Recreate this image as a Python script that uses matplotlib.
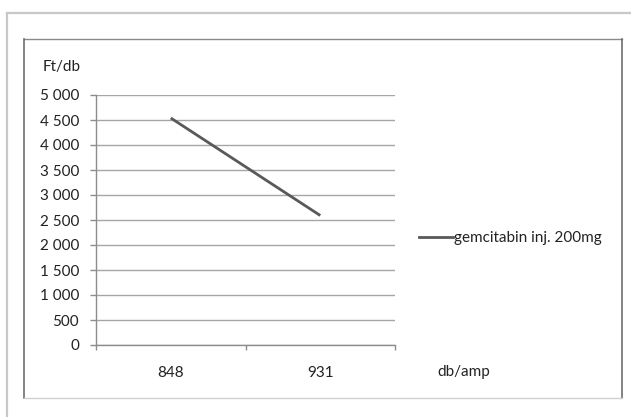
import matplotlib
matplotlib.use("Agg")
import matplotlib.pyplot as plt
from matplotlib.lines import Line2D
from matplotlib.ticker import FuncFormatter, FixedLocator

categories = ["848", "931"]
values = [4540, 2590]
series_name = "gemcitabin inj. 200mg"
y_ticks = [0, 500, 1000, 1500, 2000, 2500, 3000, 3500, 4000, 4500, 5000]

plt.rcParams['font.family'] = ['Lato', 'DejaVu Sans']
FS = 11

W, H = 631, 417
fig = plt.figure(figsize=(W / 100, H / 100), dpi=100)
fig.patch.set_facecolor("white")

def fx(px):
    return px / W

def fy(py):
    return 1 - py / H

# frames
fig.add_artist(Line2D([fx(7), fx(631)], [fy(13), fy(13)], color="#c8c8c8", lw=1.6))
fig.add_artist(Line2D([fx(7), fx(7)], [fy(13), fy(417)], color="#c8c8c8", lw=1.6))
fig.add_artist(Line2D([fx(24), fx(622)], [fy(39), fy(39)], color="#8a8a8a", lw=1.0))
fig.add_artist(Line2D([fx(24), fx(24)], [fy(39), fy(398)], color="#6e6e6e", lw=1.2))
fig.add_artist(Line2D([fx(622), fx(622)], [fy(39), fy(398)], color="#6e6e6e", lw=1.2))
fig.add_artist(Line2D([fx(24), fx(622)], [fy(398), fy(398)], color="#d0d0d0", lw=1.0))

ax = fig.add_axes([fx(96), fy(345), fx(395) - fx(96), fy(95) - fy(345)])
x = list(range(len(categories)))
line, = ax.plot(x, values, color="#595959", lw=2.0, solid_capstyle="butt")

ax.set_xlim(-0.5, len(categories) - 0.5)
ax.set_ylim(0, 5000)
ax.yaxis.set_major_locator(FixedLocator(y_ticks))
ax.yaxis.set_major_formatter(FuncFormatter(lambda v, p: f"{int(v):,}".replace(",", " ")))
ax.set_xticks(x)
ax.set_xticklabels(categories)
ax.xaxis.set_minor_locator(FixedLocator([i - 0.5 for i in range(len(categories) + 1)]))

for s in ["top", "right"]:
    ax.spines[s].set_visible(False)
for s in ["left", "bottom"]:
    ax.spines[s].set_color("#8c8c8c")
    ax.spines[s].set_linewidth(1.0)

ax.grid(axis="y", color="#a6a6a6", lw=1.0)
ax.set_axisbelow(True)
ax.tick_params(axis="y", which="major", length=4.3, width=1.0, color="#8c8c8c",
               pad=8, labelsize=FS, labelcolor="#222222")
ax.tick_params(axis="x", which="major", length=0, pad=15, labelsize=FS, labelcolor="#222222")
ax.tick_params(axis="x", which="minor", length=3.5, width=1.0, color="#8c8c8c")

fig.text(fx(43), fy(67), "Ft/db", fontsize=FS, color="#222222", ha="left", va="center")
fig.text(fx(437), fy(372), "db/amp", fontsize=FS, color="#222222", ha="left", va="center")

fig.add_artist(Line2D([fx(419), fx(453)], [fy(237), fy(237)], color="#595959", lw=2.0))
fig.text(fx(454), fy(238), series_name, fontsize=FS, color="#222222", ha="left", va="center")

fig.savefig("out.png", dpi=100)
